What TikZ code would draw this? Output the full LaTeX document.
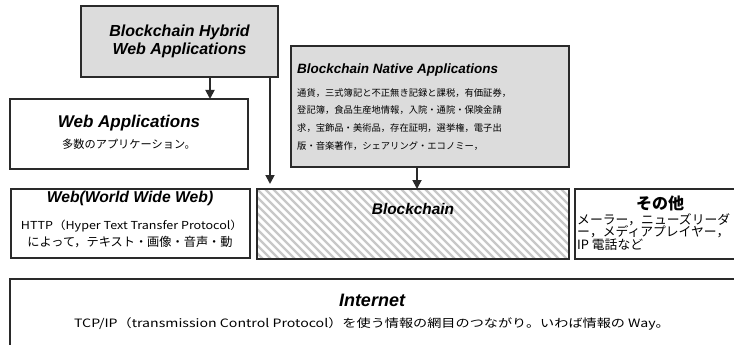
\documentclass[tikz,border=0pt]{standalone}
\usepackage{fontspec}
\setmainfont{Liberation Sans}
\newfontfamily\jp{Noto Sans CJK JP}
\usetikzlibrary{arrows.meta}
\definecolor{bord}{HTML}{2A2A2A}
\definecolor{boxgray}{HTML}{DCDCDC}
\definecolor{hatchc}{HTML}{C8C8C8}
\begin{document}
\begin{tikzpicture}[x=1pt,y=-1pt,
  frame/.style={anchor=north west, inner sep=0pt, outer sep=0pt},
  thickbox/.style={draw=bord, line width=2.6pt},
  thinbox/.style={draw=bord, line width=1.2pt},
  ttl/.style={font=\bfseries\itshape\fontsize{16}{18}\selectfont, inner sep=0pt, text=black},
  jpt/.style={font=\jp\fontsize{11}{13}\selectfont, inner sep=0pt, text=black},
  arr/.style={draw=bord, line width=1.8pt, -{Triangle[width=9pt,length=9pt]}},
  hatch/.style={draw=hatchc, line width=2.4pt}]
\useasboundingbox (0,0) rectangle (734,345);

% boxes
\node[frame, thickbox, fill=boxgray, minimum width=197pt, minimum height=71pt] (hyb) at (81,6) {};
\node[frame, thickbox, fill=boxgray, minimum width=278pt, minimum height=121pt] (nat) at (291,46) {};
\node[frame, thinbox, minimum width=238pt, minimum height=70pt] (wapp) at (10,99) {};
\node[frame, thinbox, minimum width=239pt, minimum height=69pt] (web) at (11,189) {};
\node[frame, thickbox, minimum width=312pt, minimum height=70pt] (bc) at (257,189) {};
\node[frame, minimum width=159pt, minimum height=70pt] (oth) at (575,189) {};
\node[frame, minimum width=724pt, minimum height=66pt] (inet) at (10,279) {};

% hatching
\begin{scope}
  \clip (bc.north west) rectangle (bc.south east);
  \foreach \i in {-80,-72,...,320} \draw[hatch] (257+\i,189) -- ++(80,80);
\end{scope}
\draw[thickbox] (bc.north west) rectangle (bc.south east);
\draw[thinbox] (oth.north east) -- (oth.north west) -- (oth.south west) -- (oth.south east);
\draw[thinbox] (inet.north east) -- (inet.north west) -- (inet.south west);

% texts
\node[ttl, align=center] (hybt) at (hyb.center) {Blockchain Hybrid\\Web Applications};

\node[ttl, anchor=west, font=\bfseries\itshape\fontsize{13.5}{15}\selectfont] (natt) at (297,70) {Blockchain Native Applications};
\node[jpt, anchor=north west, align=left, font=\jp\fontsize{9.3}{17.7}\selectfont] (natb) at (297,88)
  {通貨，三式簿記と不正無き記録と課税，有価証券，\\登記簿，食品生産地情報，入院・通院・保険金請\\求，宝飾品・美術品，存在証明，選挙権，電子出\\版・音楽著作，シェアリング・エコノミー，};

\node[ttl, font=\bfseries\itshape\fontsize{17}{18}\selectfont] (wappt) at (129,123) {Web Applications};
\node[jpt, font=\jp\fontsize{11.2}{13}\selectfont] (wappb) at (129,144) {多数のアプリケーション。};

\node[ttl, font=\bfseries\itshape\fontsize{15.7}{17}\selectfont] (webt) at (130,198) {Web(World Wide Web)};
\node[jpt] (webb1) at (132,226) {\scalebox{1.14}[1]{HTTP（Hyper Text Transfer Protocol）}};
\node[jpt, font=\jp\fontsize{12.2}{13}\selectfont] (webb2) at (130,242) {によって，テキスト・画像・音声・動};

\node[ttl, font=\bfseries\itshape\fontsize{15.4}{17}\selectfont] (bct) at (413,209) {Blockchain};

\node[jpt, font=\jp\bfseries\fontsize{16}{17}\selectfont] (otht) at (660,203) {その他};
\node[jpt, anchor=north west, align=left, font=\jp\fontsize{12.8}{12.6}\selectfont] (othb) at (577,213)
  {メーラー，ニューズリーダ\\ー，メディアプレイヤー，\\IP 電話など};

\node[ttl, font=\bfseries\itshape\fontsize{18}{19}\selectfont] (inett) at (372,300) {Internet};
\node[jpt, font=\jp\fontsize{11.5}{13}\selectfont] (inetb) at (372,324) {\scalebox{1.23}[1]{TCP/IP（transmission Control Protocol）を使う情報の網目のつながり。いわば情報の Way。}};

% arrows
\coordinate (c1) at (210,0);
\coordinate (c2) at (270,0);
\coordinate (c3) at (417,0);
\draw[arr] (hyb.south -| c1) -- (wapp.north -| c1);
\draw[arr] (hyb.south -| c2) -- ([yshift=5pt]bc.north -| c2);
\draw[arr] (nat.south -| c3) -- (bc.north -| c3);
\end{tikzpicture}
\end{document}
